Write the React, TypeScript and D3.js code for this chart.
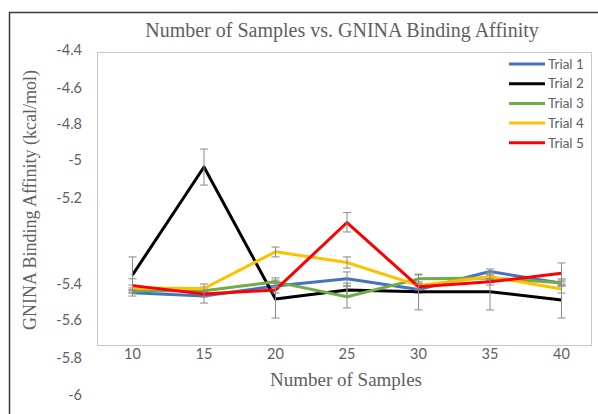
import React from "react";
import * as d3 from "d3";

// Number of samples on the x axis
const samples = [10, 15, 20, 25, 30, 35, 40];

// Mean GNINA binding affinity (kcal/mol) per trial
const trial1 = [-5.448, -5.467, -5.411, -5.388, -5.431, -5.371, -5.398];
const trial2 = [-5.379, -5.037, -5.483, -5.433, -5.443, -5.443, -5.489];
const trial3 = [-5.437, -5.437, -5.395, -5.471, -5.388, -5.386, -5.397];
const trial4 = [-5.422, -5.425, -5.325, -5.35, -5.408, -5.383, -5.428];
const trial5 = [-5.409, -5.456, -5.433, -5.257, -5.415, -5.395, -5.375];

// Error bar ends (upper / lower) per trial
const trial1Hi = [-5.433, -5.428, -5.398, -5.372, -5.411, -5.365, -5.391];
const trial1Lo = [-5.467, -5.506, -5.428, -5.411, -5.45, -5.379, -5.411];
const trial2Hi = [-5.337, -4.939, -5.391, -5.398, -5.377, -5.372, -5.395];
const trial2Lo = [-5.45, -5.132, -5.589, -5.472, -5.544, -5.544, -5.589];
const trial3Hi = [-5.422, -5.417, -5.386, -5.411, -5.379, -5.379, -5.388];
const trial3Lo = [-5.45, -5.456, -5.411, -5.533, -5.398, -5.393, -5.411];
const trial4Hi = [-5.406, -5.4, -5.314, -5.337, -5.395, -5.374, -5.406];
const trial4Lo = [-5.439, -5.45, -5.337, -5.363, -5.428, -5.391, -5.45];
const trial5Hi = [-5.388, -5.439, -5.417, -5.234, -5.4, -5.388, -5.351];
const trial5Lo = [-5.433, -5.472, -5.45, -5.279, -5.433, -5.406, -5.4];

const seriesNames = ["Trial 1", "Trial 2", "Trial 3", "Trial 4", "Trial 5"];
const seriesColors = ["#4472C4", "#000000", "#70AD47", "#FFC000", "#FF0000"];

// Value-axis tick labels
const yTicks = [-4.4, -4.6, -4.8, -5, -5.2, -5.4, -5.6, -5.8, -6];

const W = 598;
const H = 414;
const plot = { left: 97.5, top: 52.5, right: 591.5, bottom: 345.5 };
// Vertical positions of the value-axis stops (the axis is broken between -5.2 and -5.4)
const axisStops = [50, 88, 124, 160, 198, 284, 320, 358, 395];

const sans = "Lato, 'Open Sans', 'Liberation Sans', sans-serif";
const serif = "'Liberation Serif', 'DejaVu Serif', serif";
const textGray = "#606060";

export default function App() {
  const x = d3.scalePoint<number>().domain(samples).range([132.5, 561.5]);
  const y = d3.scaleLinear().domain(yTicks).range(axisStops);

  const series = [
    { values: trial1, hi: trial1Hi, lo: trial1Lo },
    { values: trial2, hi: trial2Hi, lo: trial2Lo },
    { values: trial3, hi: trial3Hi, lo: trial3Lo },
    { values: trial4, hi: trial4Hi, lo: trial4Lo },
    { values: trial5, hi: trial5Hi, lo: trial5Lo },
  ].map((s, i) => ({ ...s, name: seriesNames[i], color: seriesColors[i] }));

  const line = d3
    .line<number>()
    .x((_, i) => x(samples[i]) as number)
    .y((v) => y(v));

  const legendX = 509;
  const legendY0 = 64;
  const legendStep = 19.7;

  return (
    <svg
      width={W}
      height={H}
      style={{ position: "absolute", left: 0, top: 0, background: "#fff" }}
    >
      <rect x={0} y={0} width={W} height={H} fill="#fff" />
      {/* outer chart frame */}
      <path d={`M9.5,${H} V12.5 H${W}`} fill="none" stroke="#3a3a3a" strokeWidth={1.5} />

      {/* title */}
      <text x={342} y={37} textAnchor="middle" fontFamily={serif} fontSize={20} fill={textGray}>
        Number of Samples vs. GNINA Binding Affinity
      </text>

      {/* plot area */}
      <rect
        x={plot.left}
        y={plot.top}
        width={plot.right - plot.left}
        height={plot.bottom - plot.top}
        fill="none"
        stroke="#c8c8c8"
        strokeWidth={1}
      />

      {/* value axis labels */}
      {yTicks.map((t) => (
        <text
          key={t}
          x={82}
          y={y(t)}
          dy="0.35em"
          textAnchor="end"
          fontFamily={sans}
          fontSize={14.5}
          fill={textGray}
        >
          {String(t)}
        </text>
      ))}

      {/* category axis labels */}
      {samples.map((s) => (
        <text
          key={s}
          x={x(s)}
          y={359}
          textAnchor="middle"
          fontFamily={sans}
          fontSize={14.5}
          fill={textGray}
        >
          {s}
        </text>
      ))}

      {/* axis titles */}
      <text x={346} y={386} textAnchor="middle" fontFamily={serif} fontSize={19} fill={textGray}>
        Number of Samples
      </text>
      <text
        transform="translate(36,200) rotate(-90)"
        textAnchor="middle"
        fontFamily={serif}
        fontSize={18}
        fill={textGray}
      >
        GNINA Binding Affinity (kcal/mol)
      </text>

      {/* series lines with error bars */}
      {series.map((s) => (
        <g key={s.name}>
          <path
            d={line(s.values) || ""}
            fill="none"
            stroke={s.color}
            strokeWidth={3}
            strokeLinejoin="round"
          />
          {s.values.map((_, i) => {
            const cx = x(samples[i]) as number;
            const yh = y(s.hi[i]);
            const yl = y(s.lo[i]);
            return (
              <g key={i} stroke="#8a8a8a" strokeWidth={1}>
                <line x1={cx} x2={cx} y1={yh} y2={yl} />
                <line x1={cx - 4} x2={cx + 4} y1={yh} y2={yh} />
                <line x1={cx - 4} x2={cx + 4} y1={yl} y2={yl} />
              </g>
            );
          })}
        </g>
      ))}

      {/* legend */}
      {series.map((s, i) => {
        const ly = legendY0 + i * legendStep;
        return (
          <g key={s.name}>
            <line x1={legendX} x2={legendX + 36} y1={ly} y2={ly} stroke={s.color} strokeWidth={3} />
            <text
              x={legendX + 39}
              y={ly}
              dy="0.35em"
              fontFamily={sans}
              fontSize={13.5}
              fill={textGray}
            >
              {s.name}
            </text>
          </g>
        );
      })}
    </svg>
  );
}
